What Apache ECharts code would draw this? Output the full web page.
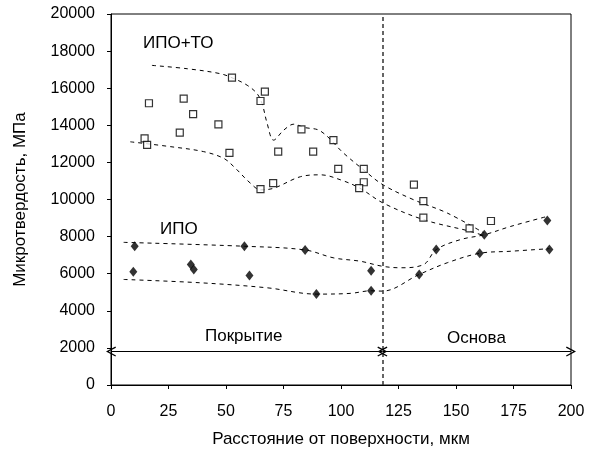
<!DOCTYPE html>
<html>
<head>
<meta charset="utf-8">
<script src="https://cdn.jsdelivr.net/npm/echarts@6/dist/echarts.min.js"></script>
<style>html,body{margin:0;padding:0;background:#fff;}#c{width:590px;height:453px;}</style>
</head>
<body>
<div id="c"></div>
<script>
// ИПО+ТО measured points (x, µm ; y, MPa)
const ipoToX = [14.6, 15.7, 16.5, 31.6, 35.7, 29.9, 46.7, 52.6, 51.5, 66.9, 65.0, 65.0, 70.5, 72.7, 82.8, 87.9, 96.7, 98.8, 109.9, 109.9, 107.9, 131.7, 135.8, 135.8, 155.9, 165.2];
const ipoToY = [13300, 12950, 15190, 15440, 14600, 13600, 14050, 16570, 12510, 15820, 15310, 10560, 10880, 12580, 13780, 12580, 13200, 11650, 11650, 10930, 10610, 10800, 9910, 9020, 8440, 8840];
// ИПО measured points
const ipoX = [10.3, 9.7, 34.7, 36.0, 58.0, 60.2, 84.4, 89.3, 113.1, 113.1, 134.0, 141.4, 160.3, 162.3, 189.7, 190.6];
const ipoY = [7480, 6100, 6500, 6230, 7480, 5900, 7280, 4900, 6160, 5080, 5960, 7300, 7100, 8100, 8870, 7300];
// Trend (envelope) curves
const upToX = [17.8, 33.1, 47.6, 53.4, 59.2, 63.5, 65.7, 67.9, 70.7, 75.1, 79.5, 83.8, 91.1, 101.2, 109.9, 118.3, 131.7, 146.2, 162.1];
const upToY = [17230, 17050, 16780, 16520, 16160, 15710, 15170, 14100, 13200, 13740, 14060, 13890, 13690, 12490, 11590, 10790, 9980, 9270, 8200];
const loToX = [8.4, 25.8, 40.3, 49.0, 53.4, 60.6, 65.0, 70.8, 82.4, 91.1, 99.8, 108.2, 118.3, 136.0, 156.3, 162.1];
const loToY = [13110, 12850, 12580, 12220, 11770, 10880, 10520, 10610, 11230, 11330, 11060, 10610, 9810, 8910, 8280, 8050];
const upIpoX = [5.5, 58.0, 84.4, 96.9, 108.5, 118.0, 125.9, 136.0, 141.4, 152.0, 162.3, 173.8, 189.7];
const upIpoY = [7690, 7480, 7280, 6850, 6670, 6400, 6320, 6500, 7300, 7840, 8100, 8550, 9090];
const loIpoX = [5.5, 38.9, 67.9, 89.3, 104.1, 113.1, 118.0, 134.0, 146.2, 160.3, 173.8, 190.6];
const loIpoY = [5690, 5510, 5240, 4900, 4940, 5080, 5060, 5960, 6590, 7100, 7210, 7350];
// Annotations
const boundaryX = 118;
const arrowY = 1800;
const coatStart = 0, baseEnd = 200;
const xTicks = [0, 25, 50, 75, 100, 125, 150, 175, 200];
const yTicks = [0, 2000, 4000, 6000, 8000, 10000, 12000, 14000, 16000, 18000, 20000];

const zip = (a, b) => a.map((v, i) => [v, b[i]]);
const font = 'Liberation Sans, Arial, sans-serif';
const chev = 'path://M5,0 L10,9 L8.8,9.6 L5,2.6 L1.2,9.6 L0,9 Z';

const dashLine = (name, xs, ys) => ({
  name, type: 'line', data: zip(xs, ys), smooth: 0.35, symbol: 'none',
  lineStyle: { color: '#000', width: 1, type: [4, 4] }, silent: true, z: 2
});

const chart = echarts.init(document.getElementById('c'), null, { renderer: 'canvas' });
chart.setOption({
  animation: false,
  backgroundColor: '#fff',
  grid: { left: 111, right: 19, top: 14, bottom: 67, show: true, borderColor: '#000', borderWidth: 1 },
  xAxis: {
    type: 'value', min: xTicks[0], max: xTicks[xTicks.length - 1], interval: 25,
    name: 'Расстояние от поверхности, мкм', nameLocation: 'middle', nameGap: 46,
    nameTextStyle: { fontFamily: font, fontSize: 17, color: '#000' },
    axisLine: { lineStyle: { color: '#000' } },
    axisTick: { inside: false, length: 4, lineStyle: { color: '#000' } },
    axisLabel: { fontFamily: font, fontSize: 16, color: '#000', margin: 19 },
    splitLine: { show: false }
  },
  yAxis: {
    type: 'value', min: yTicks[0], max: yTicks[yTicks.length - 1], interval: 2000,
    name: 'Микротвердость, МПа', nameLocation: 'middle', nameGap: 82,
    nameTextStyle: { fontFamily: font, fontSize: 17, color: '#000' },
    axisLine: { lineStyle: { color: '#000' } },
    axisTick: { inside: false, length: 4, lineStyle: { color: '#000' } },
    axisLabel: { fontFamily: font, fontSize: 16, color: '#000', margin: 16, formatter: v => String(v) },
    splitLine: { show: false }
  },
  series: [
    dashLine('upTo', upToX, upToY),
    dashLine('loTo', loToX, loToY),
    dashLine('upIpo', upIpoX, upIpoY),
    dashLine('loIpo', loIpoX, loIpoY),
    {
      name: 'ИПО+ТО', type: 'scatter', data: zip(ipoToX, ipoToY), symbol: 'rect', symbolSize: 7,
      itemStyle: { color: '#fff', borderColor: '#000', borderWidth: 1.2 }, z: 5
    },
    {
      name: 'ИПО', type: 'scatter', data: zip(ipoX, ipoY), symbol: 'diamond', symbolSize: [8, 10],
      itemStyle: { color: '#000' }, z: 5
    },
    {
      name: 'annot', type: 'line', data: [], silent: true,
      markLine: {
        silent: true, animation: false, label: { show: false },
        data: [
          [{ coord: [boundaryX, 0], symbol: 'none' }, { coord: [boundaryX, 20000], symbol: 'none', lineStyle: { color: '#333', width: 1.5, type: [4, 3] } }],
          [{ coord: [coatStart, arrowY], symbol: chev, symbolSize: [10, 10] }, { coord: [boundaryX, arrowY], symbol: chev, symbolSize: [10, 10], lineStyle: { color: '#000', width: 1, type: 'solid' } }],
          [{ coord: [boundaryX, arrowY], symbol: chev, symbolSize: [10, 10] }, { coord: [baseEnd, arrowY], symbol: chev, symbolSize: [10, 10], lineStyle: { color: '#000', width: 1, type: 'solid' } }]
        ],
        lineStyle: { color: '#000', width: 1, type: 'solid' }
      }
    }
  ],
  graphic: [
    { type: 'text', left: 143, top: 35, style: { text: 'ИПО+ТО', fontFamily: font, fontSize: 17, fill: '#000' } },
    { type: 'text', left: 160, top: 221, style: { text: 'ИПО', fontFamily: font, fontSize: 17, fill: '#000' } },
    { type: 'text', left: 205, top: 328, style: { text: 'Покрытие', fontFamily: font, fontSize: 17, fill: '#000' } },
    { type: 'text', left: 447, top: 330, style: { text: 'Основа', fontFamily: font, fontSize: 17, fill: '#000' } }
  ]
});
</script>
</body>
</html>
